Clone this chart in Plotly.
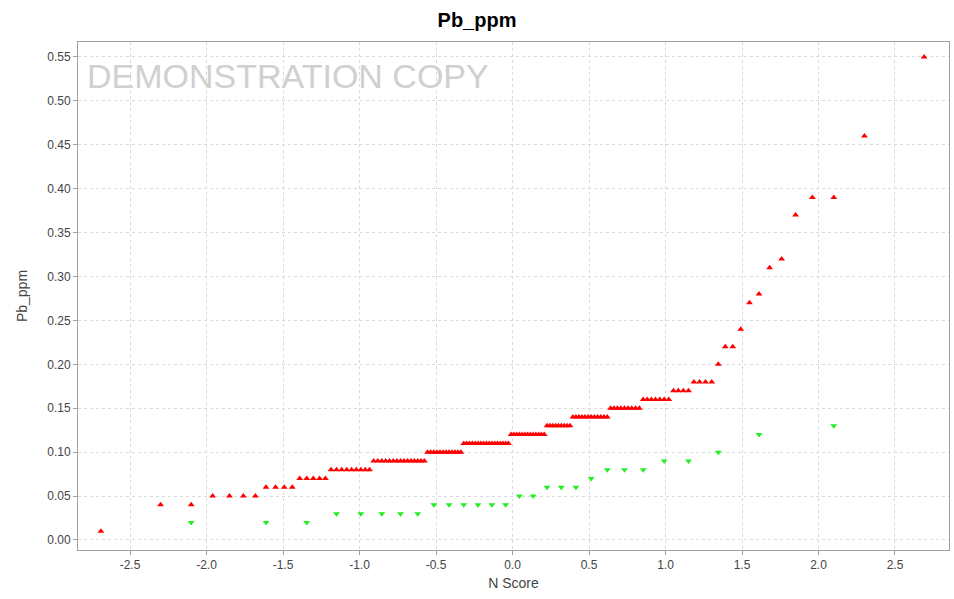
from statistics import NormalDist
import plotly.graph_objects as go

# Pb_ppm values (each distinct level and how many samples sit on it)
red_levels = [0.01, 0.04, 0.05, 0.06, 0.07, 0.08, 0.09, 0.10, 0.11, 0.12, 0.13, 0.14,
              0.15, 0.16, 0.17, 0.18, 0.20, 0.22, 0.24, 0.27, 0.28, 0.31, 0.32, 0.37,
              0.39, 0.46, 0.55]
red_counts = [1, 2, 4, 4, 5, 9, 15, 12, 17, 13, 9, 12,
              9, 7, 4, 4, 1, 2, 1, 1, 1, 1, 1, 1,
              2, 1, 1]

green_levels = [0.02, 0.03, 0.04, 0.05, 0.06, 0.07, 0.08, 0.09, 0.10, 0.12, 0.13]
green_counts = [3, 5, 6, 2, 3, 1, 3, 2, 1, 1, 1]

x_ticks = [-2.5, -2.0, -1.5, -1.0, -0.5, 0.0, 0.5, 1.0, 1.5, 2.0, 2.5]
x_tick_text = ["-2.5", "-2.0", "-1.5", "-1.0", "-0.5", "0.0", "0.5", "1.0", "1.5", "2.0", "2.5"]
y_ticks = [0.00, 0.05, 0.10, 0.15, 0.20, 0.25, 0.30, 0.35, 0.40, 0.45, 0.50, 0.55]


def expand(levels, counts):
    out = []
    for v, c in zip(levels, counts):
        out.extend([v] * c)
    return out


def normal_scores(values):
    # N Score of a sorted sample: standard normal quantile of its plotting position
    n = len(values)
    nd = NormalDist()
    return [nd.inv_cdf((i - 0.5) / n) for i in range(1, n + 1)]


red_y = expand(red_levels, red_counts)
green_y = expand(green_levels, green_counts)
red_x = normal_scores(red_y)
green_x = normal_scores(green_y)

FONT = "Liberation Sans, Arial, sans-serif"

fig = go.Figure()
fig.add_trace(go.Scatter(
    x=red_x, y=red_y, mode="markers",
    marker=dict(symbol="triangle-up", size=6, color="#ff0000", line=dict(width=0)),
    showlegend=False,
))
fig.add_trace(go.Scatter(
    x=green_x, y=green_y, mode="markers",
    marker=dict(symbol="triangle-down", size=6, color="#22ee22", line=dict(width=0)),
    showlegend=False,
))

fig.add_annotation(
    text="DEMONSTRATION COPY", xref="paper", yref="paper",
    x=0.008, y=0.933, xanchor="left", yanchor="middle", showarrow=False,
    font=dict(family=FONT, size=34, color="#d0d0d0"),
)

fig.update_layout(
    width=954, height=599,
    margin=dict(l=78, r=5, t=42, b=49),
    paper_bgcolor="white", plot_bgcolor="white",
    title=dict(text="<b>Pb_ppm</b>", x=0.5, xanchor="center", y=1 - 20 / 599,
               yanchor="middle", font=dict(family=FONT, size=20, color="#000000")),
    font=dict(family=FONT, color="#444444"),
)

fig.update_xaxes(
    range=[-2.84, 2.853], tickmode="array", tickvals=x_ticks, ticktext=x_tick_text,
    showgrid=True, gridcolor="#dadada", griddash="3px,3px", gridwidth=1,
    zeroline=False, showline=True, linecolor="#a0a0a0", linewidth=1, mirror=True,
    ticks="outside", ticklen=4, tickcolor="#a0a0a0",
    tickfont=dict(family=FONT, size=12, color="#444444"),
    title=dict(text="N Score", font=dict(family=FONT, size=14, color="#444444"), standoff=6),
)
fig.update_yaxes(
    range=[-0.0114, 0.567], tickmode="array", tickvals=y_ticks, tickformat=".2f",
    showgrid=True, gridcolor="#dadada", griddash="3px,3px", gridwidth=1,
    zeroline=False, showline=True, linecolor="#a0a0a0", linewidth=1, mirror=True,
    ticks="outside", ticklen=4, tickcolor="#a0a0a0",
    tickfont=dict(family=FONT, size=12, color="#444444"),
    title=dict(text="Pb_ppm", font=dict(family=FONT, size=14, color="#444444"), standoff=16),
)

fig.write_html("out.html")
